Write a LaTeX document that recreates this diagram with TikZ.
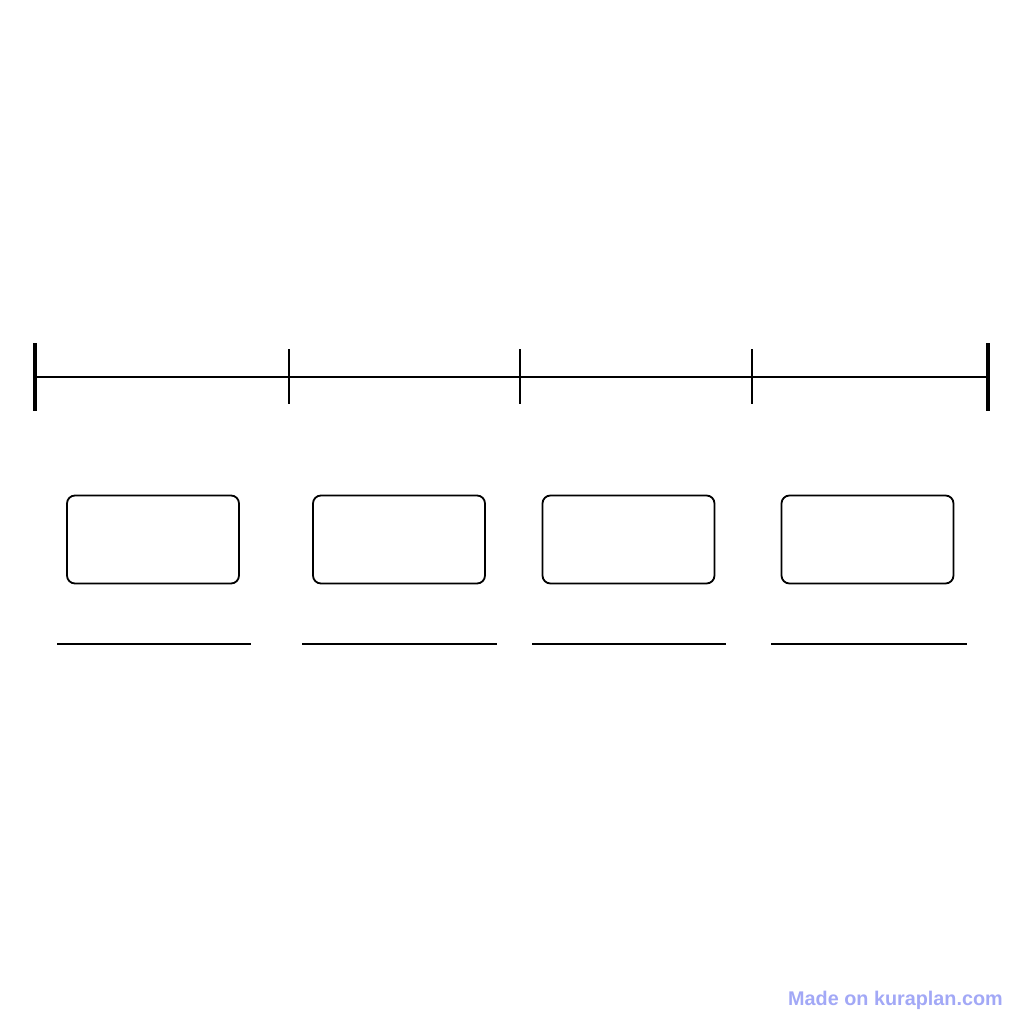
\documentclass[tikz,border=0pt]{standalone}
\usepackage{fontspec}
\usepackage{xcolor}
\usepackage{tikz}
\newfontfamily\markfont{Liberation Sans}
\definecolor{kuraBlue}{RGB}{162,168,246}

\begin{document}
\begin{tikzpicture}[x=1pt, y=-1pt,
		endtick/.style={line width=4pt},
		midtick/.style={line width=1.6pt},
		slot/.style={draw, line width=1.8pt, rounded corners=8pt, minimum width=172pt, minimum height=88pt, inner sep=0pt},
		blank/.style={line width=1.8pt}]
				\useasboundingbox (0, 0) rectangle (1024, 1024);
				
				%Timeline
				\coordinate (start) at (35, 377);
				\coordinate (t1) at (289, 377);
				\coordinate (t2) at (520, 377);
				\coordinate (t3) at (752, 377);
				\coordinate (end) at (988, 377);
				\draw[line width=2pt] (start) -- (end);
				
				%Ticks
				\draw[endtick] (start) ++(0, -34) -- ++(0, 68);
				\draw[endtick] (end) ++(0, -34) -- ++(0, 68);
				\draw[midtick] (t1) ++(0, -28) -- ++(0, 55);
				\draw[midtick] (t2) ++(0, -28) -- ++(0, 55);
				\draw[midtick] (t3) ++(0, -28) -- ++(0, 55);
				
				%Boxes
				\node[slot] (box1) at (153, 539.5) {};
				\node[slot] (box2) at (399, 539.5) {};
				\node[slot] (box3) at (628.5, 539.5) {};
				\node[slot] (box4) at (867.5, 539.5) {};
				
				%Blank lines
				\draw[blank] (57, 644) -- (251, 644);
				\draw[blank] (302, 644) -- (497, 644);
				\draw[blank] (532, 644) -- (726, 644);
				\draw[blank] (771, 644) -- (967, 644);
				
				%Watermark
				\node[anchor=base, inner sep=0pt, text=kuraBlue, font=\markfont\bfseries\fontsize{19.8}{24}\selectfont] (mark) at (895.5, 1005) {Made on kuraplan.com};
			\end{tikzpicture}
\end{document}
